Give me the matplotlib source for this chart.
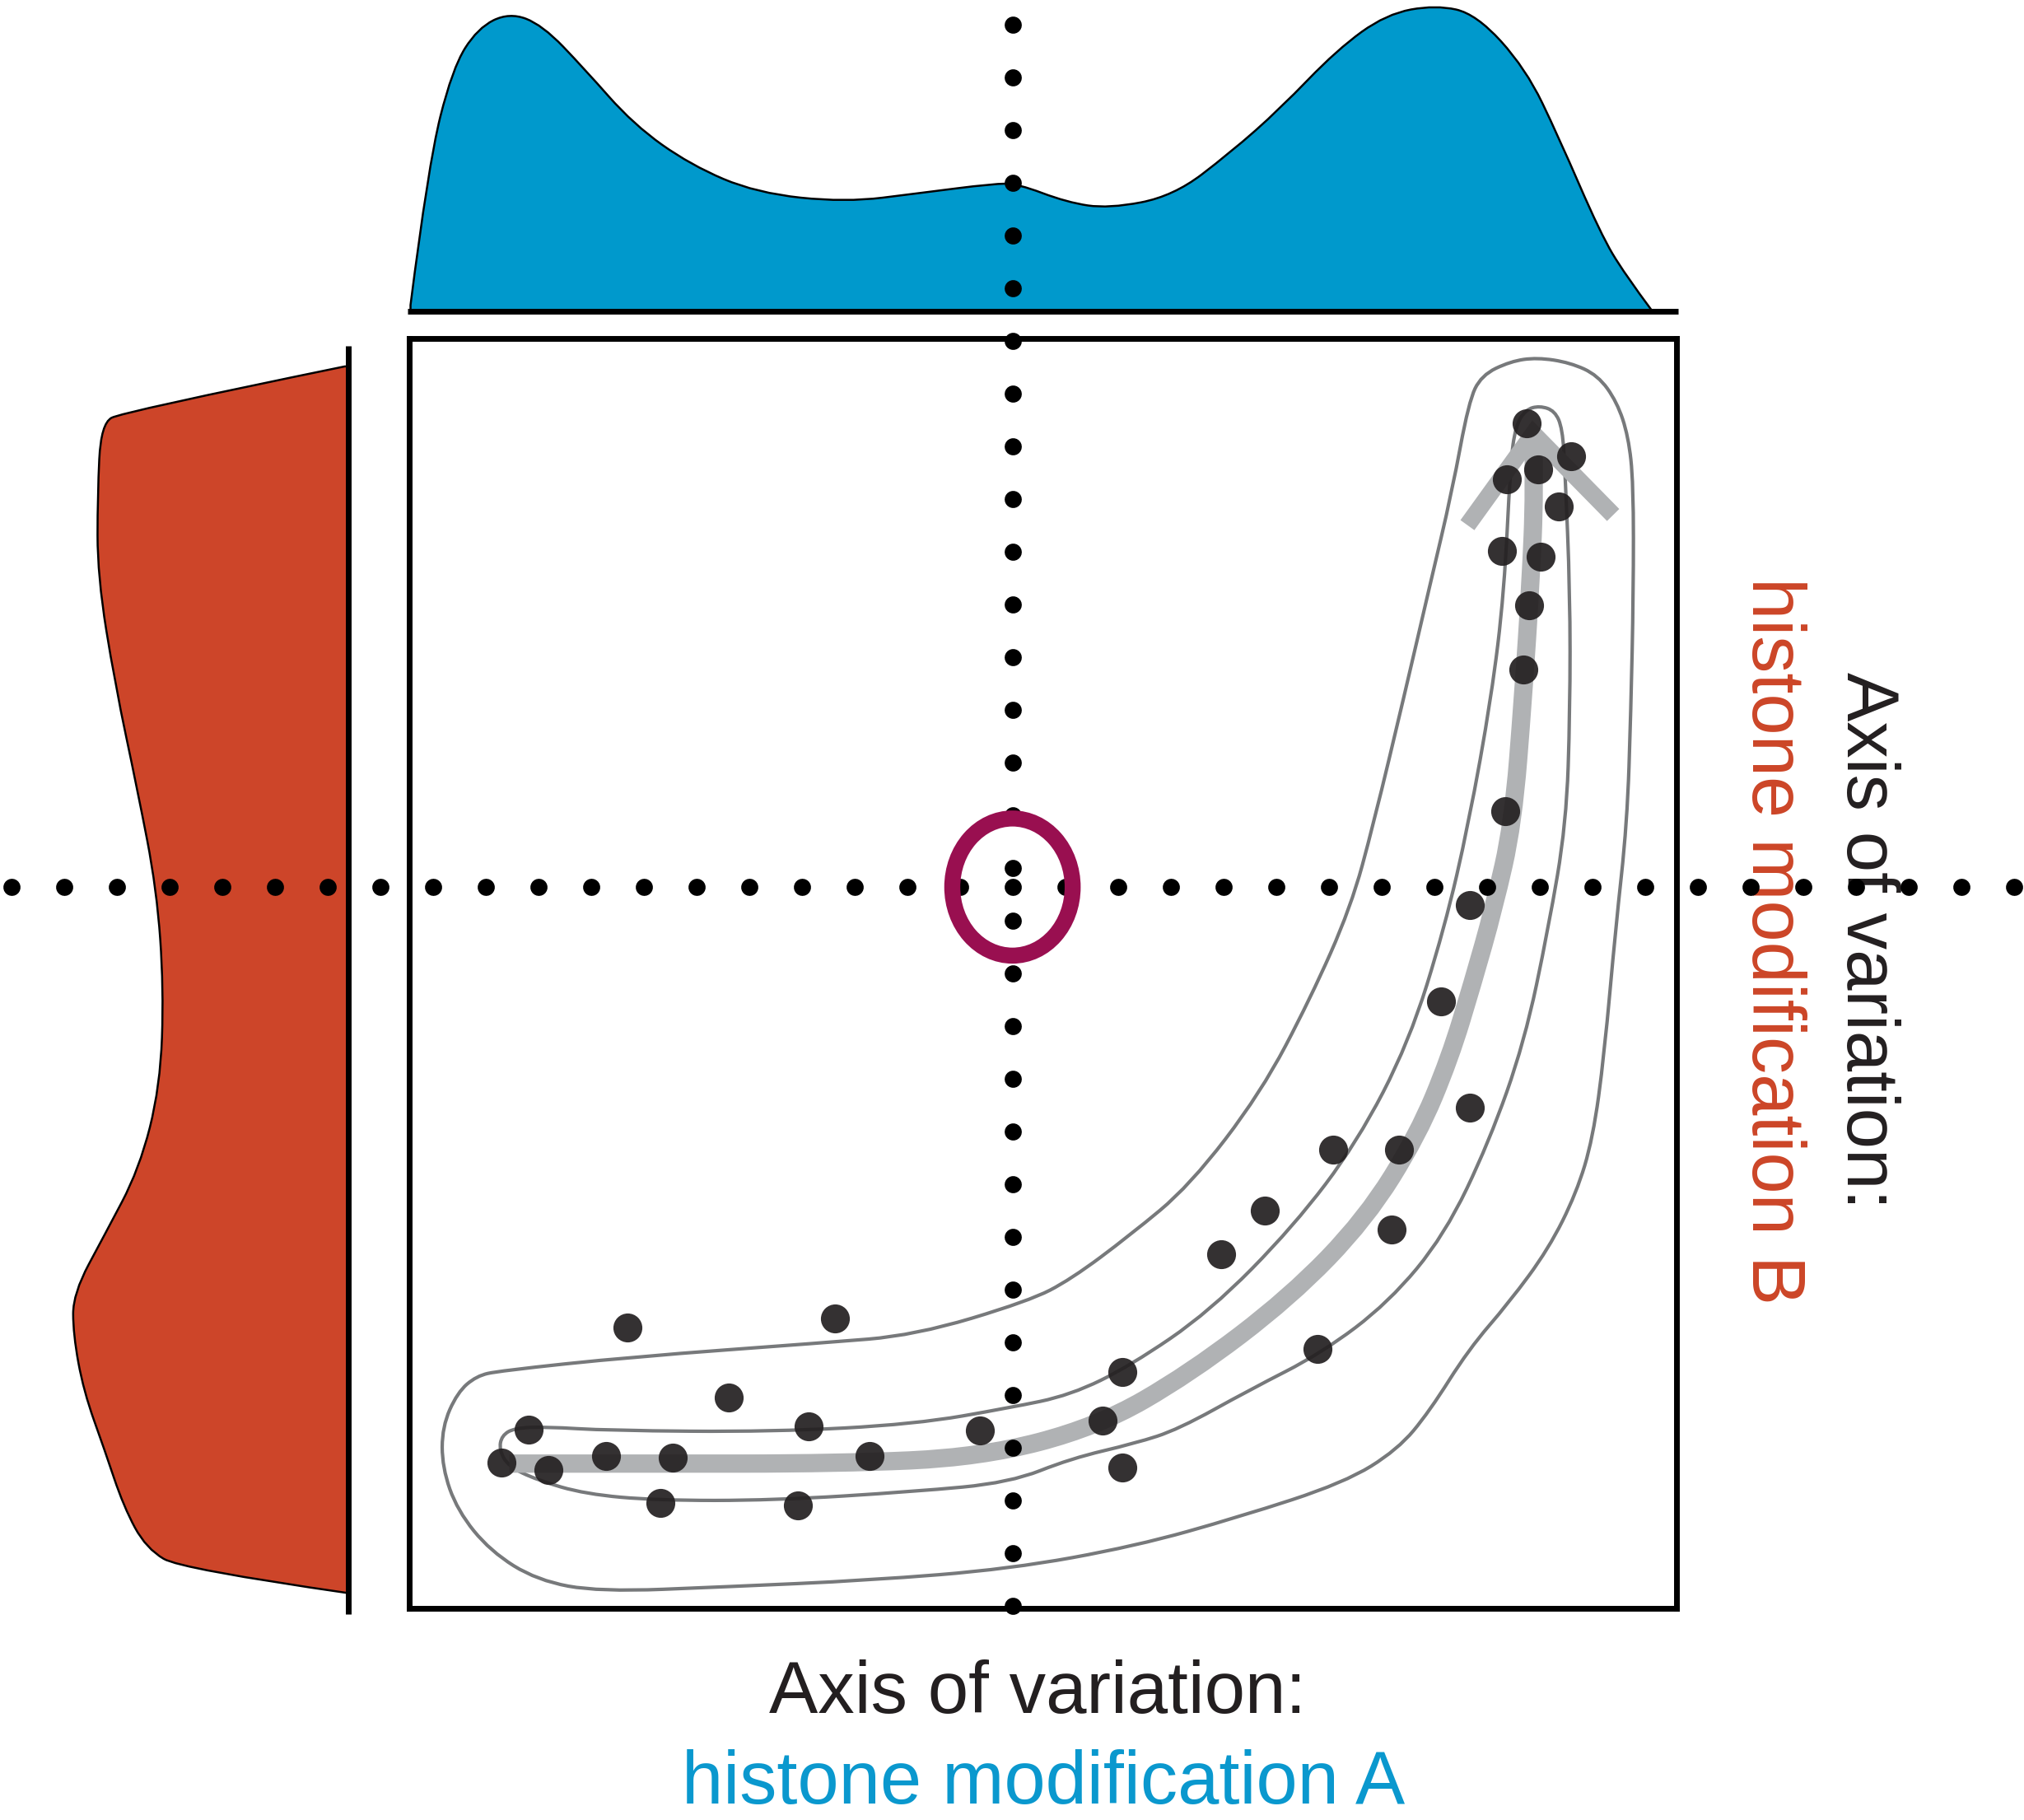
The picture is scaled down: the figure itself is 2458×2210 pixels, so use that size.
import numpy as np
import matplotlib
matplotlib.use('Agg')
import matplotlib.pyplot as plt
from matplotlib.path import Path
from matplotlib.patches import PathPatch, Ellipse

plt.rcParams['font.family'] = ['Liberation Sans', 'DejaVu Sans']

BLUE = '#0099cc'
RED = '#cd4529'
DARK = '#231f20'
MAGENTA = '#990f50'
TRAJ_GRAY = '#b0b2b4'
CONTOUR_GRAY = '#77797b'

# cells in the 2D space (box units 0-100)
cell_x = [88.2, 91.7, 86.6, 89.1, 90.7, 86.2, 89.3, 88.4, 87.9, 86.5, 83.7, 81.4,
          83.7, 78.1, 72.9, 67.5, 64.1, 77.5, 71.7, 56.3, 54.7, 56.3, 45.0, 36.3,
          31.5, 30.7, 25.2, 33.6, 17.2, 20.8, 15.5, 19.8, 11.0, 9.4, 7.3]
cell_y = [93.3, 90.7, 88.9, 89.7, 86.8, 83.3, 82.8, 79.0, 73.9, 62.8, 55.4, 47.8,
          39.4, 36.1, 36.1, 31.3, 27.9, 29.8, 20.4, 18.6, 14.8, 11.1, 14.0, 12.0,
          14.3, 8.1, 16.6, 22.8, 22.1, 11.9, 12.0, 8.3, 10.9, 14.1, 11.5]

# trajectory
traj_x = [7.9, 18.6, 33.9, 45.1, 54.3, 61.6, 69.5, 75.5, 79.6, 82.1, 83.9, 85.6,
          87.1, 87.9, 88.5, 88.8, 88.7]
traj_y = [11.4, 11.4, 11.4, 11.9, 14.3, 18.5, 24.5, 30.7, 37.3, 43.3, 49.2, 55.2,
          61.8, 71.8, 80.9, 88.0, 92.5]
arrow_x = [83.5, 88.7, 95.0]
arrow_y = [85.3, 92.5, 86.1]

# density contours
outer_x = [7.1, 17.5, 32.5, 39.9, 48.9, 52.2, 56.9, 61.6, 67.2, 71.1, 74.3, 76.1,
           78.5, 80.5, 82.3, 83.6, 84.6, 86.9, 89.0, 91.6, 93.8, 95.3, 96.2, 96.6,
           96.6, 96.4, 96.1, 95.2, 94.3, 93.4, 92.1, 89.9, 86.8, 83.6, 80.5, 78.0,
           73.8, 65.5, 57.3, 47.4, 36.2, 25.0, 15.0, 10.1, 6.4, 3.8, 2.6, 2.6, 3.8, 5.3]
outer_y = [18.7, 19.8, 20.9, 21.5, 24.2, 25.9, 29.4, 33.3, 40.6, 48.0, 55.2, 61.8,
           71.8, 80.4, 88.0, 95.0, 97.1, 98.2, 98.5, 98.1, 97.1, 95.0, 92.3, 88.6,
           80.0, 70.7, 61.8, 53.6, 43.6, 37.0, 32.7, 28.3, 24.1, 20.4, 15.5, 12.5,
           9.9, 7.2, 4.9, 3.1, 2.2, 1.7, 1.3, 2.2, 4.5, 7.7, 11.1, 14.3, 17.0, 18.3]
inner_x = [8.3, 10.8, 15.7, 28.7, 39.9, 47.4, 52.2, 56.9, 63.2, 69.8, 74.8, 78.9,
           81.7, 83.6, 85.4, 86.4, 86.9, 87.3, 88.1, 89.2, 90.4, 91.0, 91.2, 91.6,
           91.6, 91.3, 89.9, 88.0, 85.2, 81.7, 77.3, 72.0, 66.3, 60.7, 57.3, 52.2,
           47.4, 39.9, 28.7, 19.5, 13.9, 10.1, 7.8, 7.1, 7.3]
inner_y = [14.2, 14.3, 14.0, 13.9, 14.5, 15.8, 16.8, 19.1, 23.4, 30.1, 36.7, 44.6,
           53.6, 61.8, 71.8, 80.0, 90.2, 93.1, 94.4, 94.7, 94.3, 92.9, 89.6, 80.0,
           70.7, 61.8, 53.6, 44.6, 36.7, 29.4, 24.1, 20.1, 17.2, 14.1, 13.0, 11.8,
           9.9, 9.2, 8.5, 8.5, 9.0, 10.1, 11.2, 12.5, 13.6]

# marginal densities
top_x = [0.1, 1.5, 3.4, 5.4, 7.9, 10.5, 13.8, 17.7, 22.2, 27.4, 34.4, 40.3, 46.1,
         48.0, 51.9, 55.2, 60.3, 64.8, 68.7, 73.2, 77.1, 81.0, 84.2, 88.1, 90.7,
         94.0, 95.9, 98.1]
top_h = [0.02, 0.47, 0.78, 0.91, 0.96, 0.92, 0.78, 0.60, 0.47, 0.38, 0.35, 0.38,
         0.41, 0.41, 0.35, 0.33, 0.37, 0.51, 0.65, 0.84, 0.955, 0.984, 0.955, 0.78,
         0.56, 0.25, 0.12, 0.0]
left_y = [97.8, 94.2, 93.3, 87.7, 81.3, 72.8, 64.4, 56.6, 48.8, 41.1, 34.6, 29.4,
          24.8, 21.6, 17.1, 12.5, 8.0, 4.7, 3.1, 1.2]
left_h = [0.01, 0.65, 0.71, 0.72, 0.72, 0.67, 0.605, 0.55, 0.53, 0.54, 0.60, 0.70,
          0.79, 0.79, 0.76, 0.70, 0.645, 0.58, 0.48, 0.0]

# reference cross and the circled origin
cross_x, cross_y = 47.6, 56.8
hline_x = [-31.4, 127.0]
vline_y = [124.7, -0.3]
origin_w, origin_h = 9.5, 10.8


def smooth_path(xs, ys, closed=False):
    pts = np.column_stack([xs, ys])
    n = len(pts)
    if closed:
        mids = (pts + np.roll(pts, -1, axis=0)) / 2
        verts = [mids[-1]]
        codes = [Path.MOVETO]
        for i in range(n):
            verts += [pts[i], mids[i]]
            codes += [Path.CURVE3, Path.CURVE3]
        verts.append(mids[-1])
        codes.append(Path.CLOSEPOLY)
    else:
        mids = (pts[:-1] + pts[1:]) / 2
        verts = [pts[0]]
        codes = [Path.MOVETO]
        for i in range(1, n - 2):
            verts += [pts[i], mids[i]]
            codes += [Path.CURVE3, Path.CURVE3]
        verts += [pts[n - 2], pts[n - 1]]
        codes += [Path.CURVE3, Path.CURVE3]
    return verts, codes


fig = plt.figure(figsize=(24.58, 22.10), dpi=100)

ax_top = fig.add_axes([497 / 2458, 1 - 378 / 2210, 1539 / 2458, 378 / 2210])
ax_left = fig.add_axes([0, 1 - 1953 / 2210, 423 / 2458, 1542 / 2210])
ax = fig.add_axes([497 / 2458, 1 - 1953 / 2210, 1539 / 2458, 1542 / 2210])
ax.set_zorder(5)
ax.set_facecolor('none')

# top marginal: histone modification A
v, c = smooth_path(top_x, top_h)
v += [(top_x[0], 0), (top_x[0], 0)]
c += [Path.LINETO, Path.CLOSEPOLY]
ax_top.add_patch(PathPatch(Path(v, c), facecolor=BLUE, edgecolor='black', lw=1.8))
ax_top.plot([-0.1, 100.1], [0, 0], color='black', lw=5, solid_capstyle='butt', clip_on=False)
ax_top.set_xlim(0, 100)
ax_top.set_ylim(0, 1)
ax_top.axis('off')

# left marginal: histone modification B
v, c = smooth_path(left_h, left_y)
v += [(0, left_y[0]), (0, left_y[0])]
c += [Path.LINETO, Path.CLOSEPOLY]
ax_left.add_patch(PathPatch(Path(v, c), facecolor=RED, edgecolor='black', lw=1.8))
ax_left.plot([0, 0], [99.4, -0.45], color='black', lw=5, solid_capstyle='butt', clip_on=False)
ax_left.set_xlim(1, 0)
ax_left.set_ylim(0, 100)
ax_left.axis('off')

# main panel
for xs, ys in [(outer_x, outer_y), (inner_x, inner_y)]:
    v, c = smooth_path(xs, ys, closed=True)
    ax.add_patch(PathPatch(Path(v, c), facecolor='none', edgecolor=CONTOUR_GRAY,
                           lw=3, zorder=2))

v, c = smooth_path(traj_x, traj_y)
ax.add_patch(PathPatch(Path(v, c), facecolor='none', edgecolor=TRAJ_GRAY, lw=16,
                       capstyle='butt', zorder=3))
ax.plot(arrow_x, arrow_y, color=TRAJ_GRAY, lw=15, solid_capstyle='butt',
        solid_joinstyle='miter', zorder=3)

dot_lw = 15
dot_style = (0, (0.001, 46.08 / dot_lw - 0.001))
ax.plot(hline_x, [cross_y, cross_y], color='black', lw=dot_lw, linestyle=dot_style,
        dash_capstyle='round', clip_on=False, zorder=3.5)
ax.plot([cross_x, cross_x], vline_y, color='black', lw=dot_lw, linestyle=dot_style,
        dash_capstyle='round', clip_on=False, zorder=3.5)

ax.scatter(cell_x, cell_y, s=640, color=DARK, alpha=0.92, linewidths=0, zorder=4)

ax.add_patch(Ellipse((cross_x, cross_y), origin_w, origin_h, facecolor='none',
                     edgecolor=MAGENTA, lw=14, zorder=6))

ax.set_xlim(0, 100)
ax.set_ylim(0, 100)
ax.set_xticks([])
ax.set_yticks([])
for sp in ax.spines.values():
    sp.set_linewidth(5)
    sp.set_color('black')

# axis labels
fig.text(0.5125, 1 - 2080 / 2210, 'Axis of variation:', fontsize=64, color=DARK,
         ha='center', va='baseline')
fig.text(0.5156, 1 - 2190 / 2210, 'histone modification A', fontsize=65, color='#0a98ce',
         ha='center', va='baseline')
fig.text(2243 / 2458, 1 - 1142 / 2210, 'Axis of variation:', fontsize=64, color=DARK,
         ha='center', va='baseline', rotation=-90, rotation_mode='anchor')
fig.text(2128 / 2458, 1 - 1143 / 2210, 'histone modification B', fontsize=65, color='#cc4527',
         ha='center', va='baseline', rotation=-90, rotation_mode='anchor')

fig.savefig('out.png', dpi=100)
